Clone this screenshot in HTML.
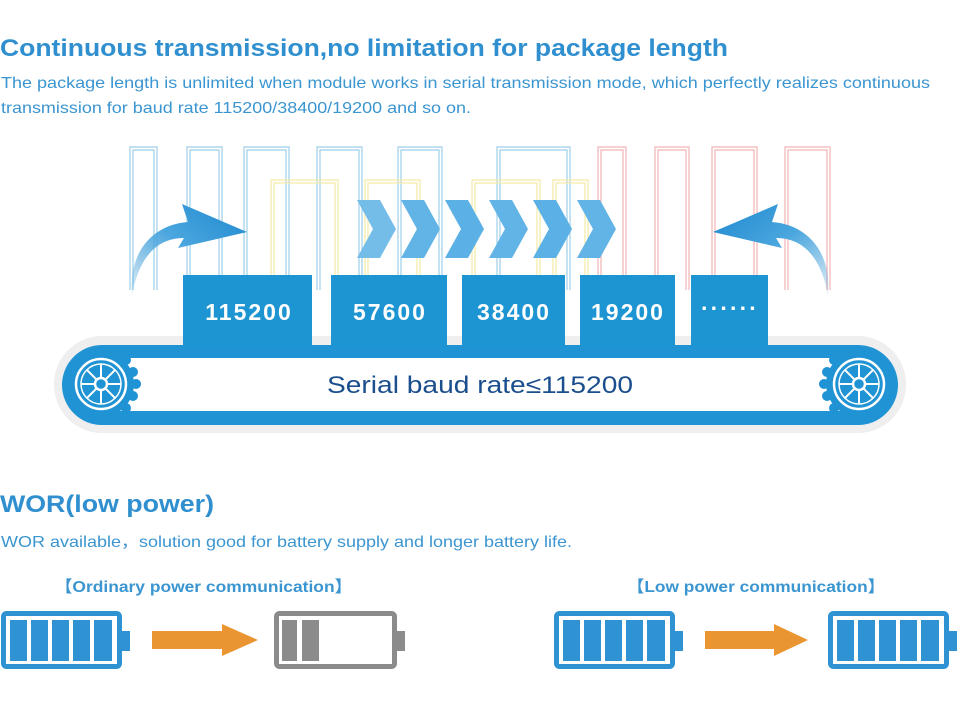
<!DOCTYPE html>
<html><head><meta charset="utf-8"><style>body{margin:0;background:#fff}svg{display:block}</style></head>
<body>
<svg width="960" height="711" viewBox="0 0 960 711" xmlns="http://www.w3.org/2000/svg" font-family="Liberation Sans, sans-serif">
<defs>
<linearGradient id="arr" x1="0" y1="1" x2="1" y2="0"><stop offset="0" stop-color="#2d93d3" stop-opacity="0.1"/><stop offset="0.5" stop-color="#4aa6de"/><stop offset="1" stop-color="#1e88cf"/></linearGradient>
<linearGradient id="arr2" x1="1" y1="1" x2="0" y2="0"><stop offset="0" stop-color="#2d93d3" stop-opacity="0.1"/><stop offset="0.5" stop-color="#4aa6de"/><stop offset="1" stop-color="#1e88cf"/></linearGradient>
</defs>
<text x="0" y="56" font-size="24" font-weight="bold" fill="#2f8fcf" textLength="728" lengthAdjust="spacingAndGlyphs">Continuous transmission,no limitation for package length</text>
<text x="1" y="88" font-size="16" fill="#3a95d0" textLength="929" lengthAdjust="spacingAndGlyphs">The package length is unlimited when module works in serial transmission mode, which perfectly realizes continuous</text>
<text x="1" y="113" font-size="16" fill="#3a95d0" textLength="470" lengthAdjust="spacingAndGlyphs">transmission for baud rate 115200/38400/19200 and so on.</text>

<g fill="none" stroke-width="1.2">
<g stroke="#9ccfe9">
<path d="M130 290V147H157V290M133 290V150H154V290"/>
<path d="M187 290V147H222V290M190 290V150H219V290"/>
<path d="M244 290V147H289V290M247 290V150H286V290"/>
<path d="M317 290V147H362V290M320 290V150H359V290"/>
<path d="M398 290V147H442V290M401 290V150H439V290"/>
<path d="M497 290V147H570V290M500 290V150H567V290"/>
</g>
<g stroke="#f4b3b3">
<path d="M598 290V147H626V290M601 290V150H623V290"/>
<path d="M655 290V147H689V290M658 290V150H686V290"/>
<path d="M712 290V147H757V290M715 290V150H754V290"/>
<path d="M785 290V147H830V290M788 290V150H827V290"/>
</g>
<g stroke="#f3eaa3">
<path d="M271 290V180H338V290M274 290V183H335V290"/>
<path d="M365 290V180H420V290M368 290V183H417V290"/>
<path d="M472 290V180H540V290M475 290V183H537V290"/>
<path d="M553 290V180H588V290M556 290V183H585V290"/>
</g>
</g>

<g>
<path d="M357 200H380L396 229L380 258H357L373 229Z" fill="#74bde8"/>
<path d="M401 200H424L440 229L424 258H401L417 229Z" fill="#62b4e6"/>
<path d="M445 200H468L484 229L468 258H445L461 229Z" fill="#5bb1e5"/>
<path d="M489 200H512L528 229L512 258H489L505 229Z" fill="#62b4e6"/>
<path d="M533 200H556L572 229L556 258H533L549 229Z" fill="#5bb1e5"/>
<path d="M577 200H600L616 229L600 258H577L593 229Z" fill="#62b4e6"/>
</g>

<path d="M132 296C128 255 150 225 188 222L182 204L247 232L178 248L184 238C155 238 138 260 132 296Z" fill="url(#arr)"/>
<path d="M828 296C832 255 810 225 772 222L778 204L713 232L782 248L776 238C805 238 822 260 828 296Z" fill="url(#arr2)"/>

<rect x="54" y="336" width="852" height="97" rx="48" fill="#efefef"/>
<rect x="62" y="345" width="836" height="80" rx="40" fill="#1f93d3"/>
<rect x="120" y="358" width="720" height="53" fill="#fff"/>
<g fill="#1e95d3">
<rect x="183" y="275" width="129" height="72"/>
<rect x="331" y="275" width="116" height="72"/>
<rect x="462" y="275" width="103" height="72"/>
<rect x="580" y="275" width="95" height="72"/>
<rect x="691" y="275" width="77" height="72"/>
</g>
<g fill="#fff" font-size="23" font-weight="bold" text-anchor="middle" letter-spacing="2">
<text x="249" y="320">115200</text>
<text x="390" y="320">57600</text>
<text x="514" y="320">38400</text>
<text x="628" y="320">19200</text>
<text x="730" y="316">······</text>
</g>
<text x="480" y="393" font-size="24" fill="#1a4e8c" text-anchor="middle" textLength="306" lengthAdjust="spacingAndGlyphs">Serial baud rate≤115200</text>

<g id="gear">
<g fill="#1f93d3">
<circle cx="101" cy="384" r="33"/>
<circle cx="133" cy="372" r="5"/><circle cx="136" cy="384" r="5"/><circle cx="133" cy="396" r="5"/><circle cx="126" cy="360" r="5"/><circle cx="126" cy="408" r="5"/>
</g>
<circle cx="101" cy="384" r="25" fill="none" stroke="#fff" stroke-width="2.5"/>
<circle cx="101" cy="384" r="20" fill="none" stroke="#fff" stroke-width="1.5"/>
<g stroke="#fff" stroke-width="2">
<line x1="81" y1="384" x2="121" y2="384"/><line x1="101" y1="364" x2="101" y2="404"/>
<line x1="87" y1="370" x2="115" y2="398"/><line x1="115" y1="370" x2="87" y2="398"/>
</g>
<circle cx="101" cy="384" r="6" fill="#1f93d3" stroke="#fff" stroke-width="2.5"/>
</g>
<use href="#gear" transform="translate(960 0) scale(-1 1)"/>

<text x="0" y="512" font-size="24" font-weight="bold" fill="#2f8fcf" textLength="214" lengthAdjust="spacingAndGlyphs">WOR(low power)</text>
<text x="1" y="547" font-size="16" fill="#3a95d0" font-family="Liberation Sans, Noto Sans CJK SC, sans-serif" textLength="571" lengthAdjust="spacingAndGlyphs">WOR available，solution good for battery supply and longer battery life.</text>
<text x="55" y="592" font-size="16" font-weight="bold" fill="#3a95d0" font-family="Liberation Sans, Noto Sans CJK SC, sans-serif" textLength="297" lengthAdjust="spacingAndGlyphs">【Ordinary power communication】</text>
<text x="627" y="592" font-size="16" font-weight="bold" fill="#3a95d0" font-family="Liberation Sans, Noto Sans CJK SC, sans-serif" textLength="258" lengthAdjust="spacingAndGlyphs">【Low power communication】</text>

<g id="bat">
<rect x="3.5" y="613.5" width="116" height="53" rx="3" fill="none" stroke="#2f93d3" stroke-width="5"/>
<rect x="121" y="631" width="9" height="20" fill="#2f93d3"/>
<g fill="#2f93d3">
<rect x="10" y="620" width="17" height="41"/><rect x="31" y="620" width="17" height="41"/><rect x="52" y="620" width="17" height="41"/><rect x="73" y="620" width="17" height="41"/><rect x="94" y="620" width="18" height="41"/>
</g>
</g>
<use href="#bat" transform="translate(553 0)"/>
<use href="#bat" transform="translate(827 0)"/>
<g>
<rect x="276.5" y="613.5" width="118" height="53" rx="3" fill="none" stroke="#8b8b8b" stroke-width="5"/>
<rect x="396" y="631" width="9" height="20" fill="#8b8b8b"/>
<rect x="282" y="620" width="15" height="41" fill="#8b8b8b"/><rect x="302" y="620" width="17" height="41" fill="#8b8b8b"/>
</g>
<g fill="#e99632">
<path d="M152 631H222V624L258 640L222 656V649H152Z"/>
<path d="M705 631H774V624L808 640L774 656V649H705Z"/>
</g>
</svg>
</body></html>
